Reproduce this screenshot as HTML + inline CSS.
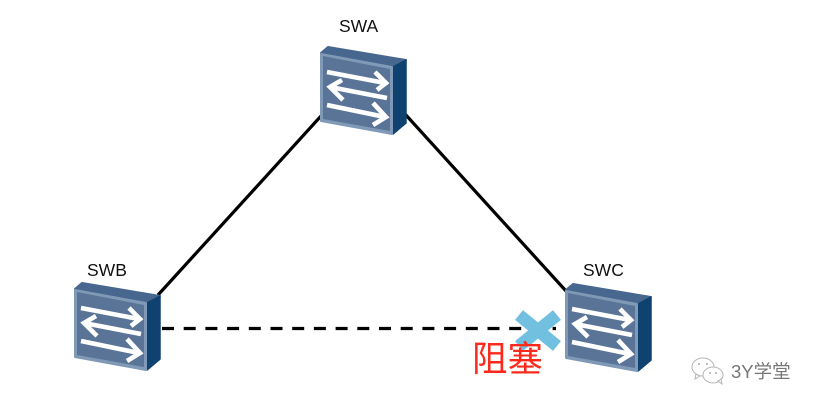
<!DOCTYPE html>
<html><head><meta charset="utf-8"><style>
html,body{margin:0;padding:0;background:#fff}
svg{display:block}
text{font-family:"Liberation Sans","Noto Sans CJK SC",sans-serif}
</style></head><body>
<svg width="818" height="408" viewBox="0 0 818 408" xmlns="http://www.w3.org/2000/svg">
<defs>
<g id="sw">
<polygon points="1,7 8,1 86,14 73,21" fill="#48678e" stroke="#48678e" stroke-width="2" stroke-linejoin="round"/>
<polygon points="73,21 86,14 86,77 73,88" fill="#0f4270" stroke="#0f4270" stroke-width="1.500" stroke-linejoin="round"/>
<polygon points="1,8 72,21 72,88 1,75" fill="#7f99b6" stroke="#7f99b6" stroke-width="2" stroke-linejoin="round"/>
<polygon points="3,10 70,23 70,85 3,73" fill="#5a7497"/>
<g fill="none" stroke="#fff" stroke-width="4.600">
<path d="M7,26 L65,37"/><path d="M55,26 L66,37 L57,44"/>
<path d="M67,52 L10,41"/><path d="M22,34 L10,41 L23,54"/>
<path d="M7,59 L65,71"/><path d="M53,57 L66,71 L53,79"/>
</g>
</g>
</defs>
<g stroke="#000" stroke-width="3.200" fill="none">
<path d="M321,116 L158,295"/>
<path d="M405,114 L566,291"/>
<path d="M162,328.500 H556" stroke-dasharray="12 9.700"/>
</g>
<use href="#sw" x="320" y="46"/>
<use href="#sw" x="74" y="282"/>
<use href="#sw" x="565" y="283"/>
<g stroke="#72c0e0" stroke-width="12.500">
<path d="M519,315 L557,346"/><path d="M557,315 L519,346"/>
</g>
<g font-size="17.500" fill="#111">
<text x="339" y="32">SWA</text>
<text x="87" y="276">SWB</text>
<text x="583" y="276">SWC</text>
</g>
<text x="472" y="371" font-size="35.500" fill="#fb2a1c">阻塞</text>
<g fill="#fff" stroke="#b5b5b5" stroke-width="1">
<ellipse cx="703" cy="367" rx="11" ry="9"/>
<path d="M696,374 l-1,5 l5,-3z"/>
<ellipse cx="713" cy="375" rx="10" ry="8"/>
<path d="M718,381 l4,3 l-1,-5z"/>
</g>
<g fill="#aaa"><circle cx="699" cy="364" r="1"/><circle cx="707" cy="364" r="1"/><circle cx="710" cy="373" r="1"/><circle cx="716" cy="373" r="1"/></g>
<text x="731" y="378" font-size="18.500" fill="#777">3Y学堂</text>
</svg>
</body></html>
